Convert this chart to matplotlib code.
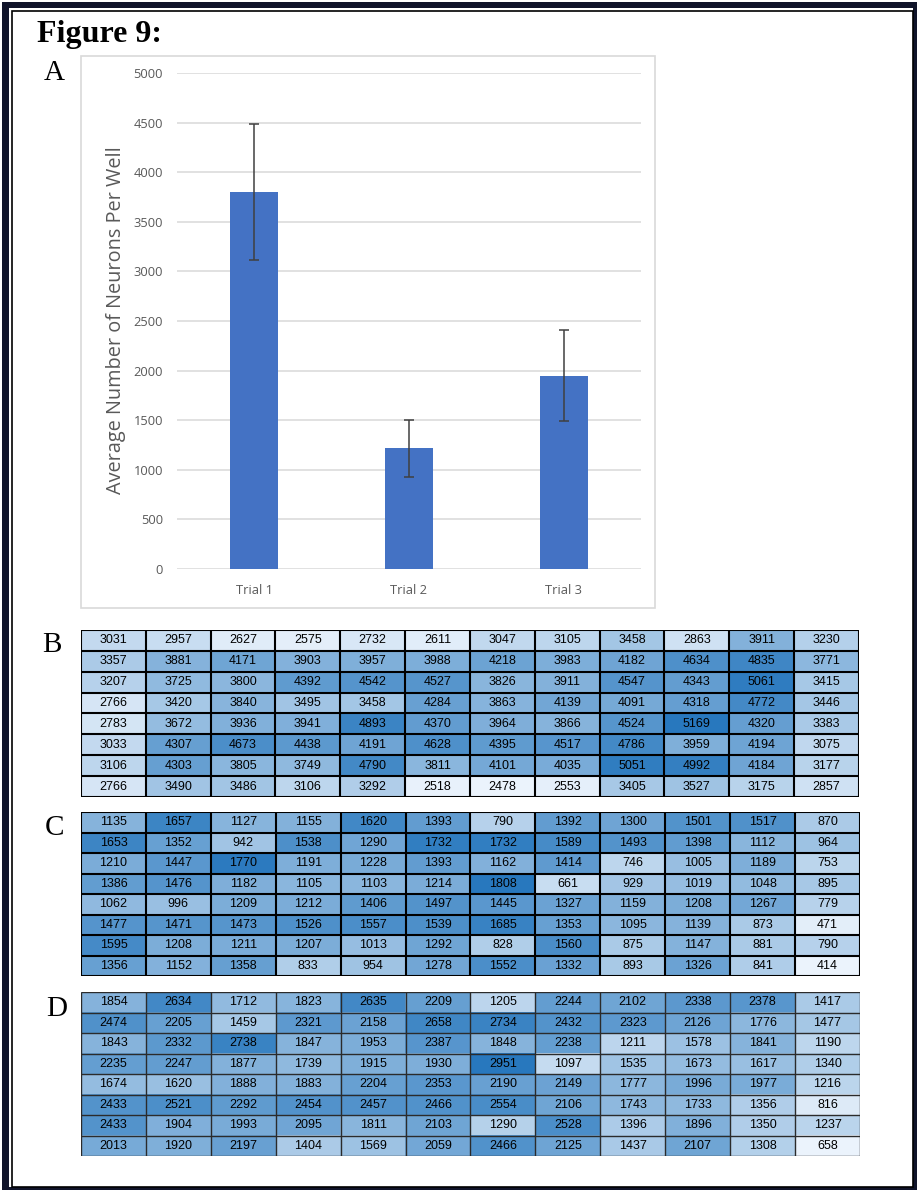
import numpy as np
import matplotlib.pyplot as plt
from matplotlib.patches import Rectangle
from matplotlib.colors import LinearSegmentedColormap

W, H = 917, 1190

# panel A: average neurons per well
trials = ['Trial 1', 'Trial 2', 'Trial 3']
avg_neurons = [3800, 1215, 1950]
avg_err = [685, 290, 455]

# panels B-D: per-well neuron counts (8 rows x 12 columns)
trial1_wells = [
    [3031, 2957, 2627, 2575, 2732, 2611, 3047, 3105, 3458, 2863, 3911, 3230],
    [3357, 3881, 4171, 3903, 3957, 3988, 4218, 3983, 4182, 4634, 4835, 3771],
    [3207, 3725, 3800, 4392, 4542, 4527, 3826, 3911, 4547, 4343, 5061, 3415],
    [2766, 3420, 3840, 3495, 3458, 4284, 3863, 4139, 4091, 4318, 4772, 3446],
    [2783, 3672, 3936, 3941, 4893, 4370, 3964, 3866, 4524, 5169, 4320, 3383],
    [3033, 4307, 4673, 4438, 4191, 4628, 4395, 4517, 4786, 3959, 4194, 3075],
    [3106, 4303, 3805, 3749, 4790, 3811, 4101, 4035, 5051, 4992, 4184, 3177],
    [2766, 3490, 3486, 3106, 3292, 2518, 2478, 2553, 3405, 3527, 3175, 2857],
]
trial2_wells = [
    [1135, 1657, 1127, 1155, 1620, 1393, 790, 1392, 1300, 1501, 1517, 870],
    [1653, 1352, 942, 1538, 1290, 1732, 1732, 1589, 1493, 1398, 1112, 964],
    [1210, 1447, 1770, 1191, 1228, 1393, 1162, 1414, 746, 1005, 1189, 753],
    [1386, 1476, 1182, 1105, 1103, 1214, 1808, 661, 929, 1019, 1048, 895],
    [1062, 996, 1209, 1212, 1406, 1497, 1445, 1327, 1159, 1208, 1267, 779],
    [1477, 1471, 1473, 1526, 1557, 1539, 1685, 1353, 1095, 1139, 873, 471],
    [1595, 1208, 1211, 1207, 1013, 1292, 828, 1560, 875, 1147, 881, 790],
    [1356, 1152, 1358, 833, 954, 1278, 1552, 1332, 893, 1326, 841, 414],
]
trial3_wells = [
    [1854, 2634, 1712, 1823, 2635, 2209, 1205, 2244, 2102, 2338, 2378, 1417],
    [2474, 2205, 1459, 2321, 2158, 2658, 2734, 2432, 2323, 2126, 1776, 1477],
    [1843, 2332, 2738, 1847, 1953, 2387, 1848, 2238, 1211, 1578, 1841, 1190],
    [2235, 2247, 1877, 1739, 1915, 1930, 2951, 1097, 1535, 1673, 1617, 1340],
    [1674, 1620, 1888, 1883, 2204, 2353, 2190, 2149, 1777, 1996, 1977, 1216],
    [2433, 2521, 2292, 2454, 2457, 2466, 2554, 2106, 1743, 1733, 1356, 816],
    [2433, 1904, 1993, 2095, 1811, 2103, 1290, 2528, 1396, 1896, 1350, 1237],
    [2013, 1920, 2197, 1404, 1569, 2059, 2466, 2125, 1437, 2107, 1308, 658],
]


def box(x0, y0, x1, y1):
    # pixel box (top-left origin) -> figure fraction rect
    return [x0 / W, 1 - y1 / H, (x1 - x0) / W, (y1 - y0) / H]


def fig_rect(fig, x0, y0, x1, y1, **kw):
    r = Rectangle((x0 / W, 1 - y1 / H), (x1 - x0) / W, (y1 - y0) / H,
                  transform=fig.transFigure, **kw)
    fig.patches.append(r)


fig = plt.figure(figsize=(W / 100, H / 100), dpi=100)

# page border (kept underneath the axes)
fig_rect(fig, 2, 2, 917, 1190, facecolor='#10142a', edgecolor='none', zorder=-3)
fig_rect(fig, 9, 8, 913, 1187, facecolor='white', edgecolor='none', zorder=-2)
fig_rect(fig, 11.5, 10.5, 912.5, 1186.5, facecolor='none', edgecolor='black',
         lw=1.2, zorder=-1)

serif = ['Liberation Serif', 'DejaVu Serif']
fig.text(37 / W, 1 - 42 / H, 'Figure 9:', family=serif, weight='bold',
         fontsize=23, va='baseline', ha='left')
for lab, x, y in [('A', 44, 80), ('B', 42, 652), ('C', 45, 835), ('D', 46, 1016)]:
    fig.text(x / W, 1 - y / H, lab, family=serif, fontsize=21,
             va='baseline', ha='left')

# ---- panel A: bar chart ----
gray = '#595959'
fig_rect(fig, 81, 56, 655, 608, facecolor='none', edgecolor='#D9D9D9', lw=1.2, zorder=-1)
ax = fig.add_axes(box(177, 73, 641, 569))
ax.patch.set_alpha(0)
x = np.arange(len(trials))
ax.bar(x, avg_neurons, width=0.31, color='#4472C4', zorder=3,
       yerr=avg_err, error_kw=dict(ecolor='#404040', elinewidth=1.1,
                                   capsize=3.5, capthick=1.1))
ax.set_xlim(-0.5, 2.5)
ax.set_ylim(0, 5000)
ax.set_yticks(np.arange(0, 5001, 500))
ax.set_xticks(x)
ax.set_xticklabels(trials)
ax.yaxis.grid(True, color='#D9D9D9', lw=1.1, zorder=0)
ax.set_axisbelow(True)
for s in ax.spines.values():
    s.set_visible(False)
ax.tick_params(length=0, colors=gray, labelsize=9.3)
ax.tick_params(axis='y', pad=10)
ax.tick_params(axis='x', pad=11)
for t in ax.get_xticklabels() + ax.get_yticklabels():
    t.set_family(['Open Sans', 'DejaVu Sans'])
fig.text(116 / W, 1 - 320 / H, 'Average Number of Neurons Per Well',
         rotation=90, ha='center', va='center', color=gray, fontsize=14.3,
         family=['Open Sans', 'DejaVu Sans'])

# ---- panels B-D: plate heatmaps ----
cmap = LinearSegmentedColormap.from_list('plate', ['#EBF3FC', '#2878BE'])


def plate(rect, wells, lw, lc):
    vals = np.array(wells)
    a = fig.add_axes(rect)
    a.imshow(vals, cmap=cmap, aspect='auto', interpolation='nearest',
             extent=(0, vals.shape[1], vals.shape[0], 0))
    a.hlines(np.arange(vals.shape[0] + 1), 0, vals.shape[1], color=lc, lw=lw)
    a.vlines(np.arange(vals.shape[1] + 1), 0, vals.shape[0], color=lc, lw=lw)
    for i in range(vals.shape[0]):
        for j in range(vals.shape[1]):
            a.text(j + 0.5, i + 0.5, str(vals[i, j]), ha='center', va='center',
                   fontsize=9, family=['Liberation Sans', 'DejaVu Sans'])
    a.set_xlim(0, vals.shape[1])
    a.set_ylim(vals.shape[0], 0)
    a.axis('off')


plate(box(81, 630, 859, 797), trial1_wells, 1.5, 'black')
plate(box(81, 812, 860, 976), trial2_wells, 1.5, 'black')
plate(box(81, 992, 860, 1156), trial3_wells, 1.0, '#2b2b2b')

fig.savefig('out.png', dpi=100)
